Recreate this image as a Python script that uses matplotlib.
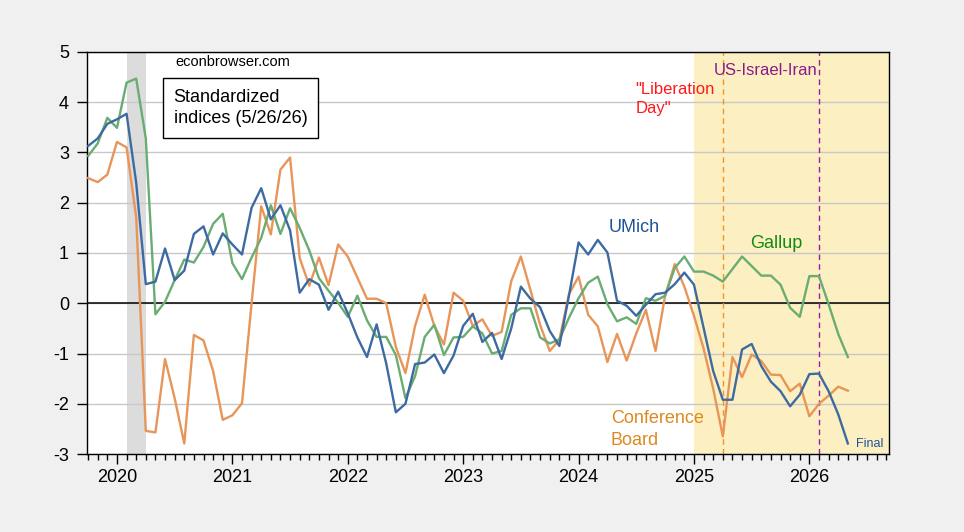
import numpy as np
import pandas as pd
import matplotlib
matplotlib.use('Agg')
import matplotlib.pyplot as plt
from matplotlib.ticker import MultipleLocator

plt.rcParams['font.family'] = ['Liberation Sans', 'DejaVu Sans']
plt.rcParams['axes.unicode_minus'] = False

# Datos mensuales (oct 2019 - may 2026), indices estandarizados
fechas = pd.date_range('2019-10-01', periods=80, freq='MS')

umich = [3.13, 3.28, 3.57, 3.66, 3.77, 2.40, 0.38, 0.43, 1.09, 0.46,
         0.65, 1.38, 1.53, 0.97, 1.39, 1.17, 0.97, 1.90, 2.29, 1.67,
         1.95, 1.45, 0.21, 0.48, 0.37, -0.13, 0.23, -0.20, -0.68, -1.07,
         -0.42, -1.20, -2.17, -2.00, -1.21, -1.18, -1.02, -1.39, -1.04, -0.45,
         -0.21, -0.77, -0.59, -1.11, -0.50, 0.33, 0.09, -0.08, -0.55, -0.85,
         0.15, 1.21, 0.97, 1.26, 1.01, 0.05, -0.05, -0.25, -0.03, 0.18,
         0.21, 0.38, 0.61, 0.37, -0.49, -1.35, -1.92, -1.92, -0.92, -0.81,
         -1.25, -1.56, -1.75, -2.05, -1.82, -1.41, -1.40, -1.75, -2.21, -2.79]

conf_board = [2.49, 2.41, 2.56, 3.21, 3.10, 1.71, -2.54, -2.57, -1.11, -1.89,
              -2.79, -0.63, -0.74, -1.35, -2.32, -2.23, -1.99, 0.00, 1.93, 1.37,
              2.66, 2.90, 0.90, 0.35, 0.91, 0.36, 1.17, 0.93, 0.51, 0.09,
              0.09, 0.00, -0.87, -1.39, -0.45, 0.17, -0.45, -0.82, 0.21, 0.05,
              -0.45, -0.32, -0.65, -0.57, 0.44, 0.93, 0.26, -0.43, -0.95, -0.73,
              0.18, 0.53, -0.23, -0.46, -1.17, -0.61, -1.14, -0.60, -0.13, -0.95,
              0.15, 0.78, 0.33, -0.25, -0.90, -1.70, -2.65, -1.07, -1.47, -1.02,
              -1.15, -1.42, -1.43, -1.75, -1.60, -2.25, -2.00, -1.84, -1.66, -1.74]

gallup = [2.93, 3.18, 3.69, 3.49, 4.39, 4.47, 3.28, -0.22, 0.03, 0.46,
          0.87, 0.81, 1.12, 1.58, 1.78, 0.80, 0.48, 0.91, 1.30, 1.95,
          1.38, 1.89, 1.50, 1.05, 0.50, 0.25, 0.01, -0.27, 0.15, -0.34,
          -0.67, -0.67, -1.03, -1.89, -1.45, -0.67, -0.43, -1.03, -0.68, -0.67,
          -0.46, -0.60, -1.00, -0.95, -0.23, -0.10, -0.10, -0.68, -0.80, -0.72,
          -0.29, 0.10, 0.41, 0.53, -0.02, -0.36, -0.28, -0.41, 0.10, 0.05,
          0.15, 0.70, 0.93, 0.63, 0.63, 0.55, 0.43, 0.68, 0.93, 0.74,
          0.55, 0.55, 0.37, -0.09, -0.27, 0.54, 0.54, -0.02, -0.61, -1.07]

# fecha -> año decimal
t = fechas.year + (fechas.month - 1) / 12

# Eventos
recesion = (2020 + 1/12, 2020 + 3/12)
inicio_trump = 2025.0
liberation_day = 2025 + 3/12
iran = 2026 + 1/12

# Gráfico
fig = plt.figure(figsize=(9.64, 5.32), dpi=100, facecolor='#f0f0f0')
ax = fig.add_axes([0.0902, 0.1466, 0.832, 0.7557])
ax.set_facecolor('white')

ax.axvspan(*recesion, color='#dcdcdc', lw=0, zorder=0)
ax.axvspan(inicio_trump, 2030, color='#fcf0c2', lw=0, zorder=0)
ax.grid(axis='y', color='#c8c8c8', lw=1, zorder=1)
ax.axhline(0, color='black', lw=1.1, zorder=2)
ax.axvline(liberation_day, color='#f7931e', lw=1, ls=(0, (4, 3)), zorder=2)
ax.axvline(iran, color='#a0199f', lw=1, ls=(0, (4, 3)), zorder=2)

ax.plot(t, conf_board, color='#e8955a', lw=1.7, zorder=3)
ax.plot(t, gallup, color='#6aad72', lw=1.7, zorder=3)
ax.plot(t, umich, color='#3d6ba1', lw=1.7, zorder=4)

ax.set_xlim(2019.74, 2026.69)
ax.set_ylim(-3, 5)
ax.xaxis.set_major_locator(MultipleLocator(1))
ax.xaxis.set_minor_locator(MultipleLocator(1/12))
ax.xaxis.set_major_formatter(plt.FuncFormatter(lambda v, p: f'{int(round(v))}'))
ax.yaxis.set_major_locator(MultipleLocator(1))
ax.tick_params(axis='both', which='major', labelsize=13, direction='out', length=7, width=1)
ax.tick_params(axis='x', which='minor', direction='out', length=4, width=1)
ax.tick_params(axis='y', pad=6)
for s in ax.spines.values():
    s.set_color('black')
    s.set_linewidth(1)

# Textos
ax.text(2021.005, 4.80, 'econbrowser.com', fontsize=10.5, ha='center', va='center')
ax.text(2020.49, 3.88, 'Standardized\nindices (5/26/26)', fontsize=13, ha='left', va='center',
        linespacing=1.3,
        bbox=dict(boxstyle='square,pad=0.6', fc='white', ec='black', lw=1))
ax.text(2024.486, 1.50, 'UMich', color='#1f5396', fontsize=13, ha='center', va='center')
ax.text(2025.711, 1.19, 'Gallup', color='#118a11', fontsize=13, ha='center', va='center')
ax.text(2024.278, -2.51, 'Conference\nBoard', color='#dc8a20', fontsize=13, ha='left',
        va='center', linespacing=1.35)
ax.text(2024.495, 4.07, '"Liberation\nDay"', color='#ff1a1a', fontsize=12, ha='left',
        va='center', linespacing=1.3)
ax.text(2025.624, 4.63, 'US-Israel-Iran', color='#8b1a8b', fontsize=12, ha='center', va='center')
ax.text(2026.40, -2.81, 'Final', color='#1f5396', fontsize=9, ha='left', va='center')

fig.savefig('out.png', dpi=100, facecolor=fig.get_facecolor())
